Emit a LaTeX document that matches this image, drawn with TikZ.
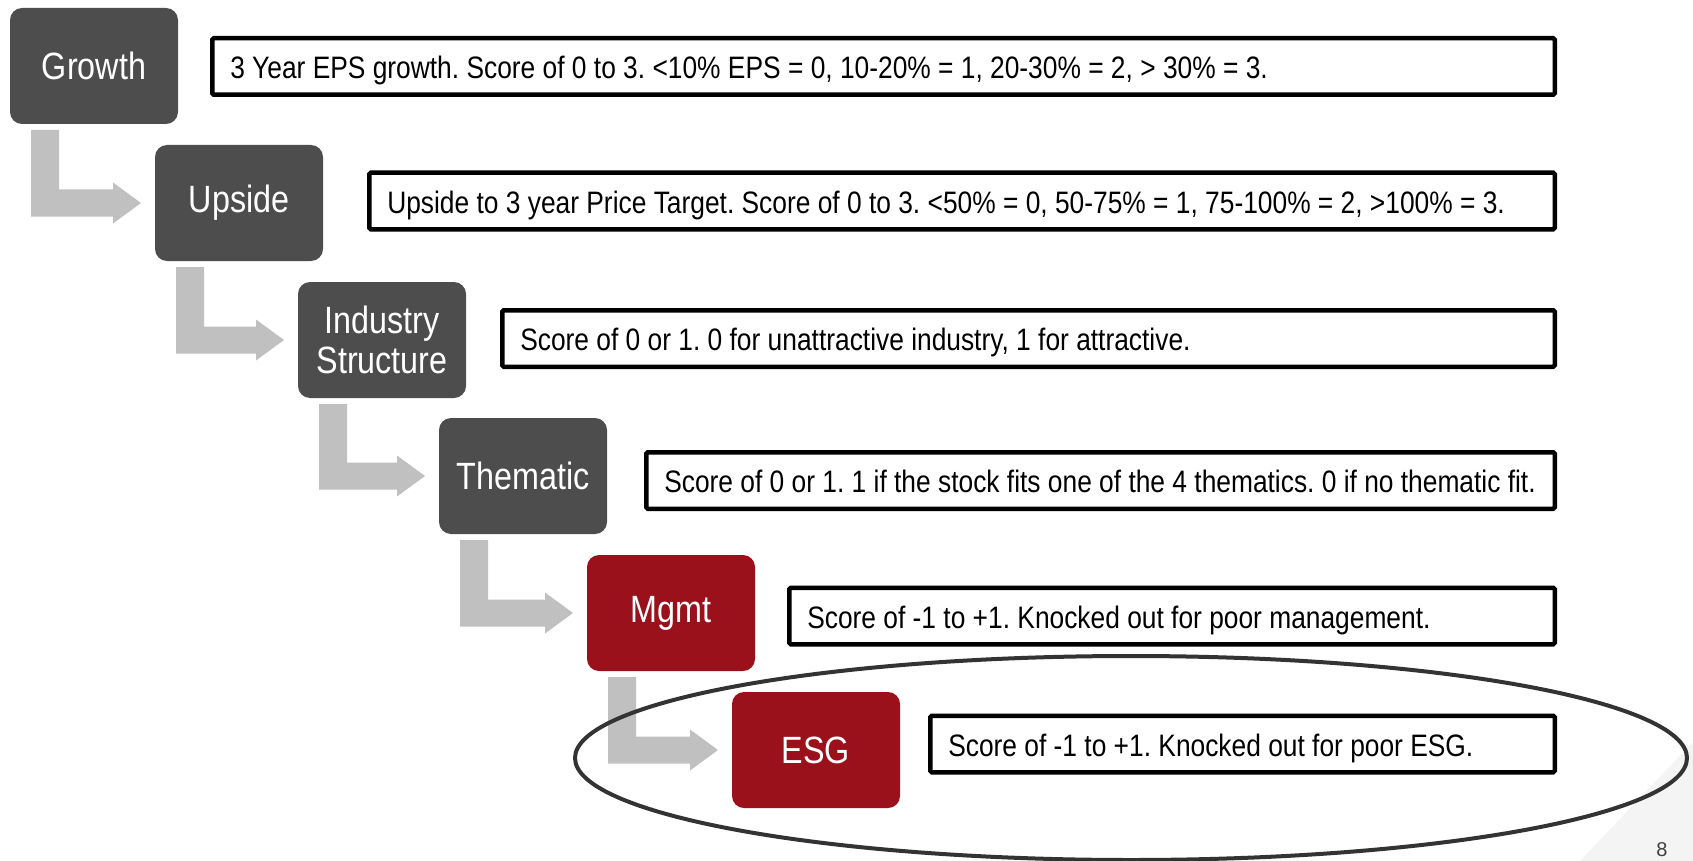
\documentclass[tikz,border=0pt]{standalone}
\usepackage{fontspec}
\setmainfont{Liberation Sans}
\newfontfamily\condfont[FakeStretch=0.85]{Liberation Sans}
\newfontfamily\labelfont[FakeStretch=0.85]{Liberation Sans}
\usetikzlibrary{calc}
\definecolor{boxgray}{HTML}{4D4D4D}
\definecolor{boxred}{HTML}{9A111C}
\definecolor{flowgray}{HTML}{C0C0C0}
\definecolor{ringgray}{HTML}{333333}
\definecolor{curlgray}{HTML}{F4F4F4}
\definecolor{pagegray}{HTML}{404040}
\newcommand\flowarrow[2]{%
  \fill[flow] ($(#1.south west)+(21,6)$) -- ($(#1.south west)+(49,6)$)
    |- ($(#2.west)+(-42,-13.5)$) -- ($(#2.west)+(-42,-20.5)$)
    -- ($(#2.west)+(-14,0)$) -- ($(#2.west)+(-42,20.5)$)
    -- ($(#2.west)+(-42,13.5)$) -| ($(#1.south west)+(21,6)$) -- cycle;}
\newcommand\desctext[2]{\makebox[#1][l]{#2}}
\begin{document}
\begin{tikzpicture}[x=1pt,y=-1pt,
  stage/.style={rounded corners=12pt, minimum width=168pt, minimum height=116pt,
    inner sep=0pt, outer sep=0pt, anchor=north west, text=white, align=center,
    font=\labelfont\fontsize{38}{40}\selectfont},
  graystage/.style={stage, fill=boxgray},
  redstage/.style={stage, fill=boxred},
  desc/.style={draw=black, line width=4.5pt, rounded corners=1.5pt, fill=white,
    anchor=west, inner xsep=18pt, inner ysep=0pt, outer sep=0pt,
    minimum height=56.5pt, text height=24pt, text depth=0pt, text=black,
    font=\condfont\fontsize{31}{36}\selectfont\frenchspacing},
  flow/.style={fill=flowgray},
  ring/.style={draw=ringgray, line width=4pt}]
\path[use as bounding box] (0,0) rectangle (1693,861);
\clip (0,0) rectangle (1693,861);
\fill[curlgray] (1580,861) -- (1693,742) -- (1693,861) -- cycle;
\node[font=\fontsize{20}{24}\selectfont, text=pagegray] (pg) at (1662,850) {8};

\node[graystage] (g)   at (10,8)    {Growth};
\node[graystage] (u)   at (155,145) {Upside};
\node[graystage] (ind) at (298,282) {Industry\\Structure};
\node[graystage] (th)  at (439,418) {Thematic};
\node[redstage]  (mg)  at (587,555) {Mgmt};
\node[redstage]  (esg) at (732,692) {ESG};

\flowarrow{g}{u}
\flowarrow{u}{ind}
\flowarrow{ind}{th}
\flowarrow{th}{mg}
\flowarrow{mg}{esg}

\node[desc] (d1) at (212.25,66.5)
  {\desctext{1306.5pt}{3 Year EPS growth. Score of 0 to 3. <10\% EPS = 0, 10-20\% = 1, 20-30\% = 2, > 30\% = 3.}};
\node[desc] (d2) at (369.25,201)
  {\desctext{1149.5pt}{Upside to 3 year Price Target. Score of 0 to 3. <50\% = 0, 50-75\% = 1, 75-100\% = 2, >100\% = 3.}};
\node[desc] (d3) at (502.25,338.5)
  {\desctext{1016.5pt}{Score of 0 or 1. 0 for unattractive industry, 1 for attractive.}};
\node[desc] (d4) at (646.25,480.5)
  {\desctext{872.5pt}{Score of 0 or 1. 1 if the stock fits one of the 4 thematics. 0 if no thematic fit.}};
\node[desc] (d5) at (789.25,616)
  {\desctext{729.5pt}{Score of -1 to +1. Knocked out for poor management.}};
\node[desc] (d6) at (930.25,744)
  {\desctext{588.5pt}{Score of -1 to +1. Knocked out for poor ESG.}};

\draw[ring] (1131,758) ellipse [x radius=556, y radius=102];
\end{tikzpicture}
\end{document}
